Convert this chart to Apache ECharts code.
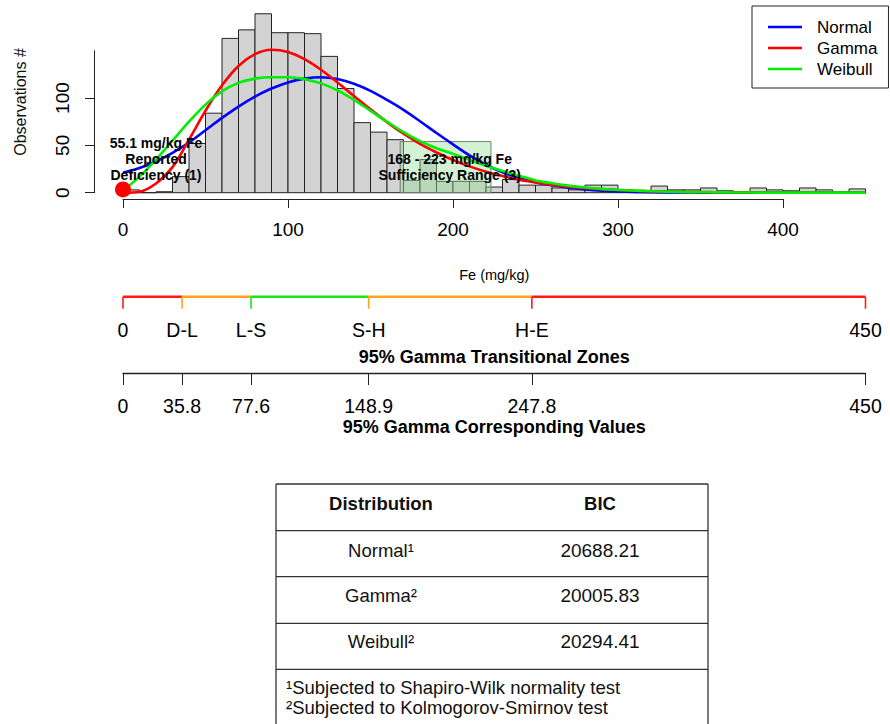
<!DOCTYPE html>
<html>
<head>
<meta charset="utf-8">
<script src="https://cdn.jsdelivr.net/npm/echarts@6/dist/echarts.min.js"></script>
<style>
html,body{margin:0;padding:0;background:#fff}
#chart{width:890px;height:724px}
</style>
</head>
<body>
<div id="chart"></div>
<script>
// Fe concentration histogram, 10 mg/kg bins
const binStarts = [0,10,20,30,40,50,60,70,80,90,100,110,120,130,140,150,160,170,180,190,200,210,220,230,240,250,260,270,280,290,300,310,320,330,340,350,360,370,380,390,400,410,420,430,440];
const binCounts = [3,0,1,17,52,84,163,172,189,169,169,168,144,110,74,64,56,13,35,12,12,12,6,14,8,8,5,3,8,8,1,0,7,3,3,5,2,0,5,3,2,5,3,0,4];
const binWidth = 10;

// Fitted density curves, scaled to counts
const curveX = [0,10,20,30,40,50,60,70,80,90,100,110,120,130,140,150,160,170,180,190,200,210,220,230,240,250,260,270,280,290,300,310,320,330,340,350,360,370,380,390,400,410,420,430,440,450];
const normalFit = [21,26,33,42,53,66,79,91,101.5,110,116.5,120.5,122,120,115,107.5,98,87.5,75.5,63,51,39.5,29.5,21.5,15.5,11,7.8,5.3,3.5,2.2,1.4,0.9,0.5,0.3,0.2,0.1,0.05,0,0,0,0,0,0,0,0,0];
const gammaFit = [0,1.1,9.8,27,56,86.6,113.4,133.9,146.3,151,148.7,141.1,129.9,116.5,102.2,88,74.6,62.3,51.5,42.5,34.5,27.8,22.2,17.6,13.8,10.8,8.3,6.4,4.9,3.7,2.8,2.1,1.6,1.2,0.9,0.7,0.5,0.4,0.3,0.2,0.15,0.1,0.08,0.06,0.04,0.03];
const weibullFit = [2,17,35,55,75,93,107,116,120.5,122,122,120,115.5,108,98,86.5,75,64,54.5,47,41,34.5,28.5,23,18,13,10,7.5,5.5,4,3,2.2,1.6,1.1,0.8,0.5,0.35,0.25,0.15,0.1,0.05,0.05,0.05,0.05,0.05,0.05];
const fitNames = ['Normal', 'Gamma', 'Weibull'];

// Reported deficiency point and sufficiency range
const deficiencyPoint = [0, 3.5];
const sufficiencyRange = [168, 223];
const sufficiencyHeight = 54;
const annotX = [20, 198];
const annotY = [35.3, 27.5];
const annotText = ['55.1 mg/kg Fe\nReported\nDeficiency (1)', '168 - 223 mg/kg Fe\nSufficiency Range (3)'];

// 95% gamma transitional zones
const zoneBounds = [0, 35.8, 77.6, 148.9, 247.8, 450];
const zoneLabels = ['0', 'D-L', 'L-S', 'S-H', 'H-E', '450'];

// BIC table
const tableHeader = ['Distribution', 'BIC'];
const tableDist = ['Normal\u00B9', 'Gamma\u00B2', 'Weibull\u00B2'];
const tableBIC = [20688.21, 20005.83, 20294.41];
const tableNotes = ['\u00B9Subjected to Shapiro-Wilk normality test', '\u00B2Subjected to Kolmogorov-Smirnov test'];

const FONT = '"Liberation Sans", Arial, Helvetica, sans-serif';
const zoneColors = ['#ff1a1a', '#ffa31a', '#19e619', '#ffa31a', '#ff1a1a'];
const fitColors = ['#0000ff', '#ff0000', '#00ee00'];

const histData = binStarts.map((s, i) => [s, s + binWidth, binCounts[i]]);
const zoneData = zoneBounds.slice(0, -1).map((b, i) => [b, zoneBounds[i + 1]]);
const pairs = vals => curveX.map((x, i) => [x, vals[i]]);

const chart = echarts.init(document.getElementById('chart'), null, { renderer: 'svg' });

// table graphics
const tL = 276, tR = 708, tTop = 484;
const rowLines = [530.7, 576.7, 623.3, 669.3];
const colX = [381, 600];
const rowTextY = [550, 595, 641];
const tableGraphics = [];
const lineStyle = { stroke: '#333', lineWidth: 1.3 };
tableGraphics.push({ type: 'line', shape: { x1: tL, y1: tTop, x2: tR, y2: tTop }, style: lineStyle });
tableGraphics.push({ type: 'line', shape: { x1: tL, y1: tTop, x2: tL, y2: 724 }, style: lineStyle });
tableGraphics.push({ type: 'line', shape: { x1: tR, y1: tTop, x2: tR, y2: 724 }, style: lineStyle });
rowLines.forEach(y => tableGraphics.push({ type: 'line', shape: { x1: tL, y1: y, x2: tR, y2: y }, style: lineStyle }));
tableHeader.forEach((h, i) => tableGraphics.push({
  type: 'text', x: colX[i], y: 503,
  style: { text: h, font: 'bold 18.5px ' + FONT, fill: '#111', align: 'center', verticalAlign: 'middle' }
}));
tableDist.forEach((d, i) => {
  tableGraphics.push({ type: 'text', x: colX[0], y: rowTextY[i],
    style: { text: d, font: '18.5px ' + FONT, fill: '#111', align: 'center', verticalAlign: 'middle' } });
  tableGraphics.push({ type: 'text', x: colX[1], y: rowTextY[i],
    style: { text: tableBIC[i].toFixed(2), font: '19px ' + FONT, fill: '#111', align: 'center', verticalAlign: 'middle' } });
});
tableNotes.forEach((n, i) => tableGraphics.push({
  type: 'text', x: 286, y: 687 + i * 20,
  style: { text: n, font: '18.5px ' + FONT, fill: '#111', align: 'left', verticalAlign: 'middle' }
}));
tableGraphics.push({
  type: 'text', x: 20, y: 102, rotation: Math.PI / 2,
  style: { text: 'Observations #', font: '16px ' + FONT, fill: '#111', align: 'center', verticalAlign: 'middle' }
});

const txt = { color: '#000', fontFamily: FONT };

const option = {
  backgroundColor: '#fff',
  animation: false,
  textStyle: { fontFamily: FONT },
  grid: [
    { left: 123, width: 742.5, top: 50.7, height: 142, outerBoundsMode: 'none' },
    { left: 123, width: 660, top: 198, height: 1, outerBoundsMode: 'none' },
    { left: 123, width: 742.5, top: 295.7, height: 1, outerBoundsMode: 'none' },
    { left: 123, width: 742.5, top: 372.3, height: 1, outerBoundsMode: 'none' }
  ],
  xAxis: [
    { gridIndex: 0, type: 'value', min: 0, max: 450,
      axisLine: { show: false }, axisTick: { show: false }, axisLabel: { show: false }, splitLine: { show: false },
      name: 'Fe (mg/kg)', nameLocation: 'middle', nameGap: 75,
      nameTextStyle: Object.assign({ fontSize: 14.5 }, txt) },
    { gridIndex: 1, type: 'value', min: 0, max: 400, interval: 100,
      axisLine: { show: true, onZero: false, lineStyle: { color: '#222', width: 1 } },
      axisTick: { show: true, length: 9, lineStyle: { color: '#222' } },
      axisLabel: Object.assign({ fontSize: 19, margin: 21 }, txt), splitLine: { show: false } },
    { gridIndex: 2, type: 'value', min: 0, max: 450,
      axisLine: { show: false }, axisTick: { show: false }, splitLine: { show: false },
      axisLabel: Object.assign({ fontSize: 19.5, margin: 23, customValues: zoneBounds,
        formatter: v => zoneLabels[zoneBounds.indexOf(v)] }, txt),
      name: '95% Gamma Transitional Zones', nameLocation: 'middle', nameGap: 51,
      nameTextStyle: Object.assign({ fontSize: 18, fontWeight: 'bold' }, txt) },
    { gridIndex: 3, type: 'value', min: 0, max: 450,
      axisLine: { show: true, onZero: false, lineStyle: { color: '#222', width: 1.3 } },
      axisTick: { show: true, length: 11.7, customValues: zoneBounds, lineStyle: { color: '#222' } },
      splitLine: { show: false },
      axisLabel: Object.assign({ fontSize: 19.5, margin: 23, customValues: zoneBounds,
        formatter: v => String(v) }, txt),
      name: '95% Gamma Corresponding Values', nameLocation: 'middle', nameGap: 45,
      nameTextStyle: Object.assign({ fontSize: 18, fontWeight: 'bold' }, txt) }
  ],
  yAxis: [
    { gridIndex: 0, type: 'value', min: 0, max: 150, interval: 50, offset: 29,
      axisLine: { show: true, onZero: false, lineStyle: { color: '#222', width: 1 } },
      axisTick: { show: true, length: 9, lineStyle: { color: '#222' } },
      axisLabel: Object.assign({ fontSize: 19, rotate: 90, margin: 22, showMaxLabel: false }, txt),
      splitLine: { show: false } },
    { gridIndex: 1, show: false, min: 0, max: 1 },
    { gridIndex: 2, show: false, min: 0, max: 1 },
    { gridIndex: 3, show: false, min: 0, max: 1 }
  ],
  legend: {
    orient: 'vertical', left: 752, top: 6,
    padding: [12, 11, 10, 16],
    icon: 'rect',
    itemWidth: 34, itemHeight: 2.6, itemGap: 3,
    borderColor: '#222', borderWidth: 1, borderRadius: 0,
    data: fitNames,
    textStyle: Object.assign({ fontSize: 17, lineHeight: 18, padding: [0, 0, 0, 10] }, txt)
  },
  graphic: tableGraphics,
  series: [
    {
      type: 'custom', name: 'histogram', xAxisIndex: 0, yAxisIndex: 0, clip: false, z: 1,
      data: histData,
      renderItem: (params, api) => {
        const p0 = api.coord([api.value(0), 0]);
        const p1 = api.coord([api.value(1), api.value(2)]);
        return { type: 'rect', shape: { x: p0[0], y: p1[1], width: p1[0] - p0[0], height: p0[1] - p1[1] },
          style: { fill: '#d3d3d3', stroke: '#222', lineWidth: 1 } };
      }
    },
    {
      type: 'custom', name: 'sufficiency', xAxisIndex: 0, yAxisIndex: 0, clip: false, z: 2,
      data: [[sufficiencyRange[0], sufficiencyRange[1], sufficiencyHeight]],
      renderItem: (params, api) => {
        const p0 = api.coord([api.value(0), 0]);
        const p1 = api.coord([api.value(1), api.value(2)]);
        return { type: 'rect', shape: { x: p0[0], y: p1[1], width: p1[0] - p0[0], height: p0[1] - p1[1] },
          style: { fill: 'rgba(150,225,150,0.42)', stroke: '#6f7f6f', lineWidth: 1 } };
      }
    },
    ...fitNames.map((n, i) => ({
      type: 'line', name: n, xAxisIndex: 0, yAxisIndex: 0, clip: false, z: 3 + i,
      data: pairs([normalFit, gammaFit, weibullFit][i]),
      smooth: 0.35, symbol: 'none', color: fitColors[i],
      lineStyle: { width: 2.6, color: fitColors[i] }
    })),
    {
      type: 'scatter', name: 'notes', xAxisIndex: 0, yAxisIndex: 0, z: 8, silent: true,
      symbolSize: 0,
      data: annotX.map((x, i) => [x, annotY[i]]),
      label: { show: true, position: 'inside',
        formatter: p => annotText[p.dataIndex],
        fontSize: 14, fontWeight: 'bold', lineHeight: 16, color: '#000',
        textBorderWidth: 0, opacity: 1, fontFamily: FONT }
    },
    {
      type: 'scatter', name: 'deficiency', xAxisIndex: 0, yAxisIndex: 0, z: 9, clip: false,
      symbol: 'circle', symbolSize: 16, data: [deficiencyPoint],
      itemStyle: { color: '#ff0000', opacity: 1 }
    },
    {
      type: 'custom', name: 'zones', xAxisIndex: 2, yAxisIndex: 2, clip: false,
      data: zoneData,
      renderItem: (params, api) => {
        const a = api.coord([api.value(0), 0]);
        const b = api.coord([api.value(1), 0]);
        const c = zoneColors[params.dataIndex];
        const kids = [
          { type: 'line', shape: { x1: a[0], y1: a[1], x2: b[0], y2: b[1] }, style: { stroke: c, lineWidth: 2.6 } },
          { type: 'line', shape: { x1: a[0], y1: a[1], x2: a[0], y2: a[1] + 12 }, style: { stroke: c, lineWidth: 1.6 } }
        ];
        if (params.dataIndex === zoneData.length - 1) {
          kids.push({ type: 'line', shape: { x1: b[0], y1: b[1], x2: b[0], y2: b[1] + 12 }, style: { stroke: c, lineWidth: 1.6 } });
        }
        return { type: 'group', children: kids };
      }
    }
  ]
};
chart.setOption(option);
</script>
</body>
</html>
